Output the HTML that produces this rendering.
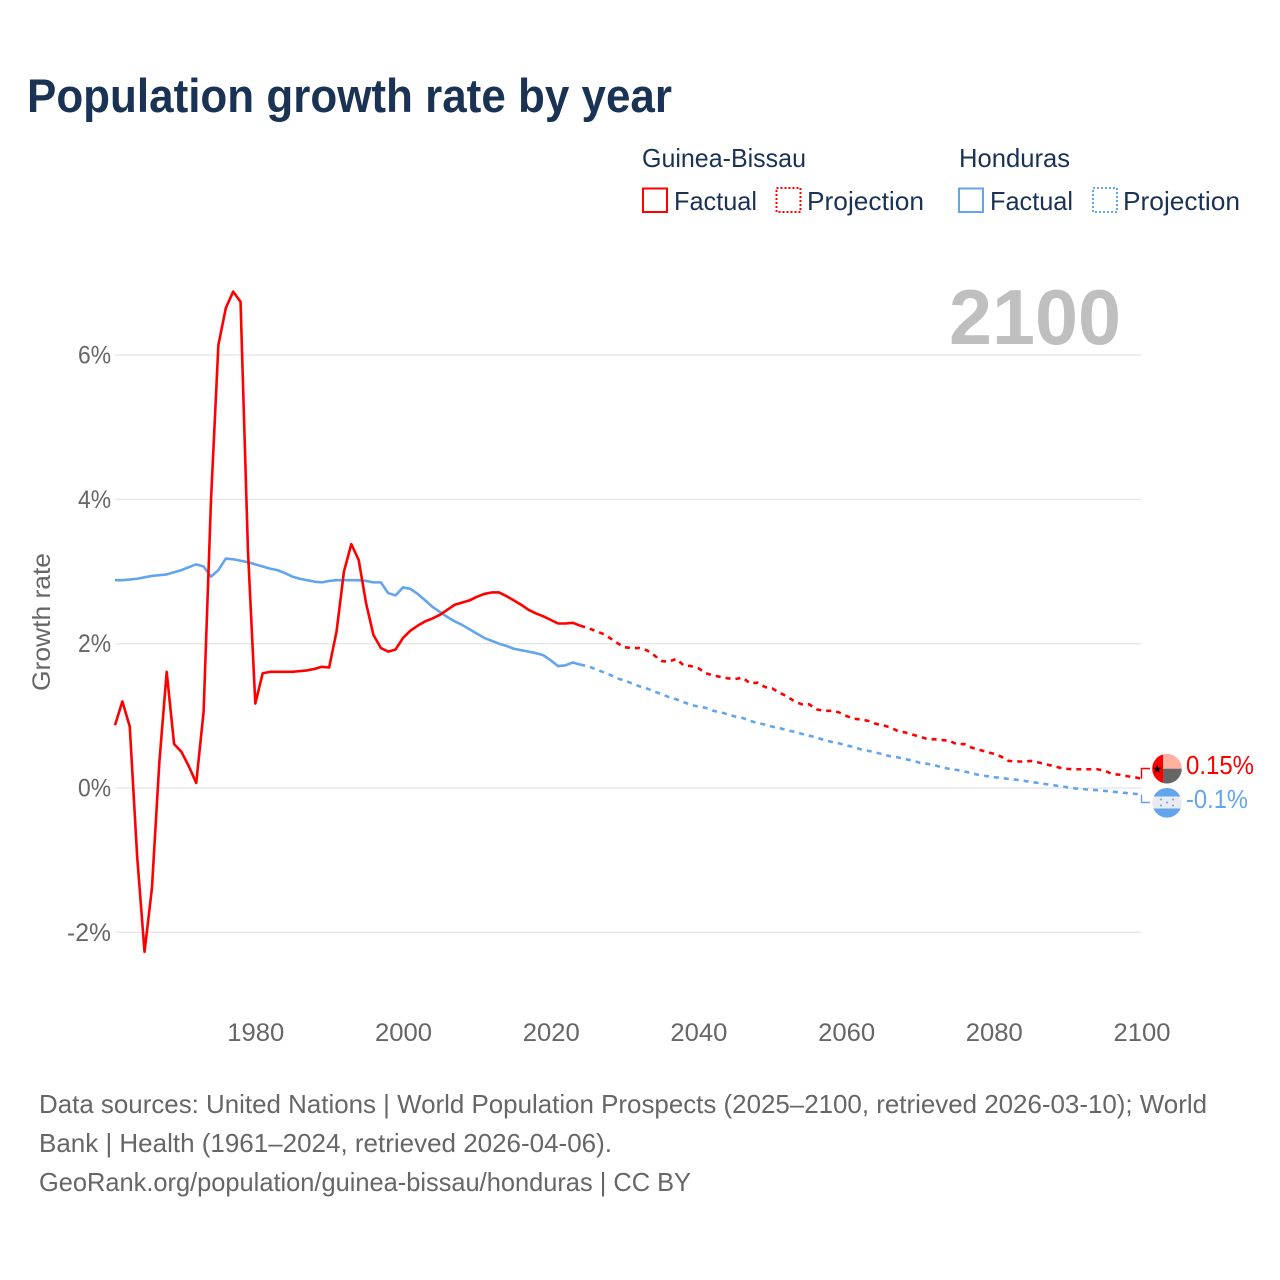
<!DOCTYPE html>
<html lang="en">
<head>
<meta charset="utf-8">
<title>Population growth rate by year</title>
<style>
html,body{margin:0;padding:0;background:#fff;width:1280px;height:1280px;overflow:hidden}
svg{display:block}
text{font-family:"Liberation Sans",sans-serif}
</style>
</head>
<body>
<svg id="chart" xmlns="http://www.w3.org/2000/svg" width="1280" height="1280" viewBox="0 0 1280 1280">
  <defs>
    <clipPath id="clip-gb"><circle cx="1167" cy="768.7" r="14.8"/></clipPath>
    <clipPath id="clip-hn"><circle cx="1167" cy="802.8" r="14.8"/></clipPath>
  </defs>
  <rect x="0" y="0" width="1280" height="1280" fill="#fff"/>
  <text x="27" y="112" font-size="47" font-weight="700" fill="#1a3354" textLength="645" lengthAdjust="spacingAndGlyphs">Population growth rate by year</text>

  <g font-size="26" fill="#1a3354">
    <text x="642" y="167" textLength="164" lengthAdjust="spacingAndGlyphs">Guinea-Bissau</text>
    <text x="959" y="167" textLength="111" lengthAdjust="spacingAndGlyphs">Honduras</text>
    <rect x="643" y="188.5" width="24" height="23.5" fill="none" stroke="#ff0000" stroke-width="2"/>
    <text x="674" y="210" textLength="83" lengthAdjust="spacingAndGlyphs">Factual</text>
    <rect x="776.5" y="188" width="24" height="24" fill="none" stroke="#ff0000" stroke-width="2" stroke-dasharray="2 2"/>
    <text x="807" y="210" textLength="117" lengthAdjust="spacingAndGlyphs">Projection</text>
    <rect x="959" y="188.5" width="24" height="23.5" fill="none" stroke="#63a5ec" stroke-width="2"/>
    <text x="990" y="210" textLength="83" lengthAdjust="spacingAndGlyphs">Factual</text>
    <rect x="1093" y="188" width="24" height="24" fill="none" stroke="#63a5ec" stroke-width="2" stroke-dasharray="2 2"/>
    <text x="1123" y="210" textLength="117" lengthAdjust="spacingAndGlyphs">Projection</text>
  </g>

  <text x="949" y="344" font-size="78" font-weight="700" fill="#bfbfbf" textLength="172" lengthAdjust="spacingAndGlyphs">2100</text>
  <text transform="translate(50,691) rotate(-90)" x="0" y="0" font-size="25" fill="#666" textLength="138" lengthAdjust="spacingAndGlyphs">Growth rate</text>

  <g id="grid"></g>
  <g id="y-ticks"></g>
  <g id="x-ticks"></g>
  <g id="series"></g>

  <g clip-path="url(#clip-gb)">
    <rect x="1150" y="752" width="13" height="34" fill="#ff0000"/>
    <rect x="1163" y="752" width="20" height="16.7" fill="#ffb09e"/>
    <rect x="1163" y="768.7" width="20" height="17" fill="#666666"/>
    <polygon points="1157.3,764.6 1158.4,767.8 1161.6,767.8 1159,769.8 1160,773 1157.3,771 1154.6,773 1155.6,769.8 1153,767.8 1156.2,767.8" fill="#111"/>
  </g>
  <g clip-path="url(#clip-hn)">
    <rect x="1150" y="786" width="34" height="10.5" fill="#63a5ec"/>
    <rect x="1150" y="796.5" width="34" height="12" fill="#e9ebee"/>
    <rect x="1150" y="808.5" width="34" height="12" fill="#63a5ec"/>
    <circle cx="1167" cy="802.5" r="1" fill="#63a5ec"/>
    <circle cx="1161" cy="799.5" r="1" fill="#63a5ec"/>
    <circle cx="1173" cy="799.5" r="1" fill="#63a5ec"/>
    <circle cx="1161" cy="805.5" r="1" fill="#63a5ec"/>
    <circle cx="1173" cy="805.5" r="1" fill="#63a5ec"/>
  </g>
  <text x="1186" y="774" font-size="26" fill="#ff0000" textLength="68" lengthAdjust="spacingAndGlyphs">0.15%</text>
  <text x="1186" y="808" font-size="26" fill="#63a5ec" textLength="62" lengthAdjust="spacingAndGlyphs">-0.1%</text>

  <g font-size="26" fill="#666">
    <text x="39" y="1113" textLength="1168" lengthAdjust="spacingAndGlyphs">Data sources: United Nations | World Population Prospects (2025–2100, retrieved 2026-03-10); World</text>
    <text x="39" y="1152" textLength="573" lengthAdjust="spacingAndGlyphs">Bank | Health (1961–2024, retrieved 2026-04-06).</text>
    <text x="39" y="1191" textLength="652" lengthAdjust="spacingAndGlyphs">GeoRank.org/population/guinea-bissau/honduras | CC BY</text>
  </g>
</svg>
<script>
const factualStartYear = 1961;
const projectionStartYear = 2024;
const xTickYears = [1980, 2000, 2020, 2040, 2060, 2080, 2100];
const yTickValues = [-2, 0, 2, 4, 6];
const yTickLabels = ["-2%", "0%", "2%", "4%", "6%"];
const guineaBissauFactual = [
  0.87,1.20,0.85,-0.95,-2.27,-1.39,0.35,1.61,0.61,0.50,
  0.30,0.07,1.06,3.99,6.14,6.65,6.88,6.74,3.30,1.17,
  1.59,1.61,1.61,1.61,1.61,1.62,1.63,1.65,1.68,1.67,
  2.17,3.00,3.38,3.16,2.56,2.12,1.94,1.89,1.92,2.08,
  2.18,2.25,2.31,2.35,2.40,2.47,2.54,2.57,2.60,2.65,
  2.69,2.71,2.71,2.66,2.60,2.54,2.47,2.42,2.38,2.33,
  2.28,2.28,2.29,2.25
];
const guineaBissauProjection = [
  2.25,2.22,2.18,2.14,2.08,2.01,1.95,1.94,1.94,1.91,
  1.84,1.76,1.75,1.79,1.70,1.69,1.66,1.59,1.56,1.54,
  1.52,1.51,1.53,1.45,1.46,1.40,1.38,1.32,1.27,1.20,
  1.16,1.16,1.09,1.07,1.07,1.05,1.00,0.96,0.95,0.93,
  0.89,0.87,0.84,0.79,0.77,0.74,0.71,0.68,0.675,0.665,
  0.655,0.605,0.61,0.56,0.53,0.50,0.475,0.435,0.375,0.37,
  0.365,0.375,0.355,0.33,0.305,0.28,0.265,0.26,0.26,0.26,
  0.26,0.24,0.195,0.185,0.165,0.15,0.13
];
const hondurasFactual = [
  2.88,2.88,2.89,2.90,2.92,2.94,2.95,2.96,2.99,3.02,
  3.06,3.10,3.07,2.93,3.02,3.18,3.17,3.15,3.13,3.10,
  3.07,3.04,3.02,2.98,2.93,2.90,2.88,2.86,2.85,2.87,
  2.88,2.88,2.88,2.88,2.87,2.85,2.85,2.70,2.67,2.78,
  2.76,2.69,2.60,2.51,2.44,2.37,2.31,2.26,2.20,2.14,
  2.08,2.04,2.00,1.97,1.93,1.91,1.89,1.87,1.84,1.77,
  1.69,1.70,1.74,1.71
];
const hondurasProjection = [
  1.71,1.69,1.65,1.61,1.57,1.52,1.49,1.45,1.41,1.38,
  1.34,1.30,1.26,1.23,1.19,1.15,1.13,1.11,1.07,1.05,
  1.02,0.99,0.97,0.93,0.90,0.88,0.85,0.83,0.80,0.78,
  0.75,0.725,0.70,0.665,0.64,0.62,0.59,0.57,0.535,0.515,
  0.495,0.465,0.44,0.425,0.40,0.38,0.35,0.335,0.315,0.285,
  0.265,0.25,0.23,0.205,0.18,0.165,0.15,0.14,0.125,0.115,
  0.10,0.085,0.07,0.055,0.04,0.025,0.01,-0.005,-0.015,-0.025,
  -0.03,-0.04,-0.05,-0.06,-0.07,-0.08,-0.09
];

const SVG_NS = "http://www.w3.org/2000/svg";
const RED = "#ff0000";
const BLUE = "#63a5ec";
function xScale(year) { return 115 + (year - 1961) * 7.385; }
function yScale(value) { return 788 - value * 72.15; }
function linePoints(values, startYear) {
  return values.map(function (v, i) {
    return xScale(startYear + i).toFixed(2) + "," + yScale(v).toFixed(2);
  }).join(" ");
}

const gridGroup = document.getElementById("grid");
const yTickGroup = document.getElementById("y-ticks");
yTickValues.forEach(function (v, i) {
  const gridLine = document.createElementNS(SVG_NS, "line");
  
  
  gridLine.setAttribute("x1", xScale(1961));
  gridLine.setAttribute("x2", xScale(2100));
  gridLine.setAttribute("y1", yScale(v));
  gridLine.setAttribute("y2", yScale(v));
  gridLine.setAttribute("stroke", "#e8e8e8");
  gridLine.setAttribute("stroke-width", "1.4");
  gridGroup.appendChild(gridLine);

  const tick = document.createElementNS(SVG_NS, "text");
  
  
  tick.setAttribute("x", "111");
  tick.setAttribute("y", yScale(v) + 8.5);
  tick.setAttribute("text-anchor", "end");
  tick.setAttribute("font-size", "25");
  tick.setAttribute("fill", "#666");
  tick.setAttribute("textLength", yTickLabels[i].length * 11 + 11);
  tick.setAttribute("lengthAdjust", "spacingAndGlyphs");
  tick.textContent = yTickLabels[i];
  yTickGroup.appendChild(tick);
});

const xTickGroup = document.getElementById("x-ticks");
xTickYears.forEach(function (year) {
  const tick = document.createElementNS(SVG_NS, "text");
  
  
  tick.setAttribute("x", xScale(year) + 0.5);
  tick.setAttribute("y", "1041");
  tick.setAttribute("text-anchor", "middle");
  tick.setAttribute("font-size", "25");
  tick.setAttribute("fill", "#666");
  tick.setAttribute("textLength", "57");
  tick.setAttribute("lengthAdjust", "spacingAndGlyphs");
  tick.textContent = String(year);
  xTickGroup.appendChild(tick);
});

const seriesGroup = document.getElementById("series");
function addLine(values, startYear, color, dashed, name) {
  const line = document.createElementNS(SVG_NS, "polyline");
  
  
  line.setAttribute("points", linePoints(values, startYear));
  line.setAttribute("fill", "none");
  line.setAttribute("stroke", color);
  line.setAttribute("stroke-width", "2.6");
  line.setAttribute("stroke-linejoin", "round");
  if (dashed) { line.setAttribute("stroke-dasharray", "5 5"); }
  seriesGroup.appendChild(line);
}
addLine(hondurasFactual, factualStartYear, BLUE, false, "honduras-factual-line");
addLine(hondurasProjection, projectionStartYear, BLUE, true, "honduras-projection-line");
addLine(guineaBissauFactual, factualStartYear, RED, false, "guinea-bissau-factual-line");
addLine(guineaBissauProjection, projectionStartYear, RED, true, "guinea-bissau-projection-line");

function addConnector(value, flagY, color, name) {
  const endX = xScale(2100);
  const connector = document.createElementNS(SVG_NS, "polyline");
  
  
  connector.setAttribute("points", endX + "," + yScale(value) + " " + endX + "," + flagY + " 1150," + flagY);
  connector.setAttribute("fill", "none");
  connector.setAttribute("stroke", color);
  connector.setAttribute("stroke-width", "1.4");
  seriesGroup.appendChild(connector);
}
addConnector(guineaBissauProjection[guineaBissauProjection.length - 1], 768.5, RED, "guinea-bissau-end-connector");
addConnector(hondurasProjection[hondurasProjection.length - 1], 802.5, BLUE, "honduras-end-connector");
</script>
</body>
</html>
